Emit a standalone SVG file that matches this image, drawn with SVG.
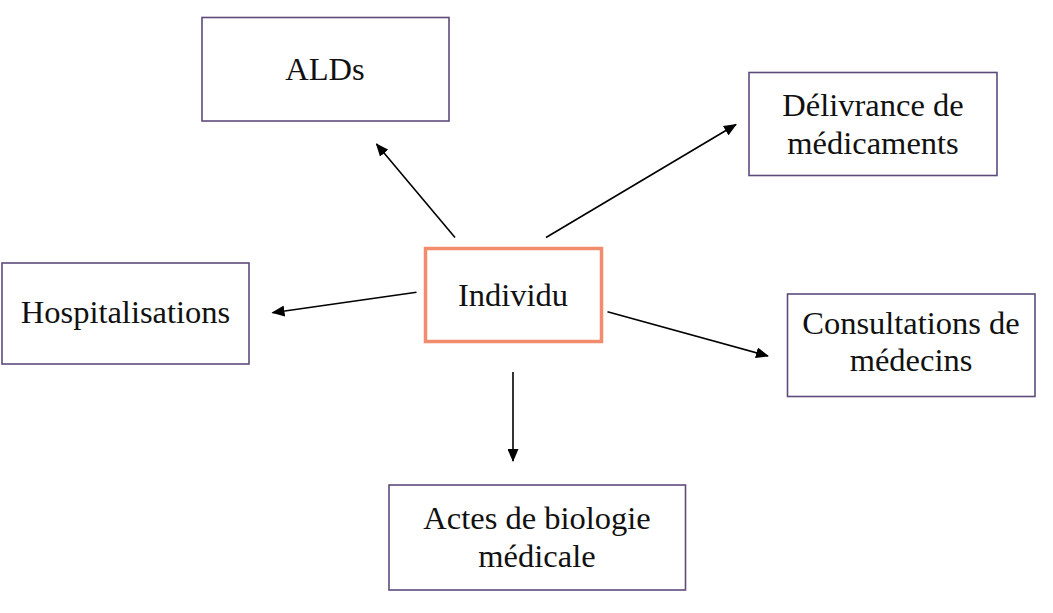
<svg xmlns="http://www.w3.org/2000/svg" width="1053" height="613" viewBox="0 0 1053 613">
<style>
.box{fill:#fff;stroke:#5F4A7C;stroke-width:1.6}
.center{fill:#fff;stroke:#F28C6C;stroke-width:3.5}
.lbl{font-family:"Liberation Serif","Times New Roman",serif;font-size:32.5px;fill:#111;text-anchor:middle}
.conn{stroke:#000;stroke-width:1.6;fill:none;marker-end:url(#arr)}
</style>
<defs>
<marker id="arr" markerUnits="userSpaceOnUse" viewBox="0 0 13 11" markerWidth="13" markerHeight="11" refX="12" refY="5.5" orient="auto">
<path d="M0,0 L13,5.5 L0,11 z" fill="#000"/>
</marker>
</defs>
<rect width="1053" height="613" fill="#fff"/>
<g id="connectors">
<line class="conn" x1="455" y1="237.5" x2="376.5" y2="144"/>
<line class="conn" x1="546" y1="237.5" x2="736" y2="124.5"/>
<line class="conn" x1="416.5" y1="292.3" x2="272.5" y2="312.7"/>
<line class="conn" x1="607.5" y1="311.7" x2="768" y2="356"/>
<line class="conn" x1="513" y1="372" x2="513" y2="461"/>
</g>
<g id="node-individu">
<rect class="center" x="425.5" y="248.5" width="176" height="93"/>
<text class="lbl" x="513" y="306">Individu</text>
</g>
<g id="node-alds">
<rect class="box" x="202" y="17.5" width="247" height="103.5"/>
<text class="lbl" x="325" y="79.5">ALDs</text>
</g>
<g id="node-delivrance">
<rect class="box" x="749" y="72.5" width="248" height="103"/>
<text class="lbl" x="873" y="115.5">Délivrance de</text>
<text class="lbl" x="873" y="153.5">médicaments</text>
</g>
<g id="node-hospitalisations">
<rect class="box" x="2" y="263" width="247" height="101"/>
<text class="lbl" x="125.5" y="323">Hospitalisations</text>
</g>
<g id="node-consultations">
<rect class="box" x="787.5" y="294" width="247.5" height="102.5"/>
<text class="lbl" x="911" y="334">Consultations de</text>
<text class="lbl" x="911" y="371">médecins</text>
</g>
<g id="node-actes">
<rect class="box" x="389" y="485" width="296.5" height="105"/>
<text class="lbl" x="537" y="529">Actes de biologie</text>
<text class="lbl" x="537" y="567">médicale</text>
</g>
</svg>
